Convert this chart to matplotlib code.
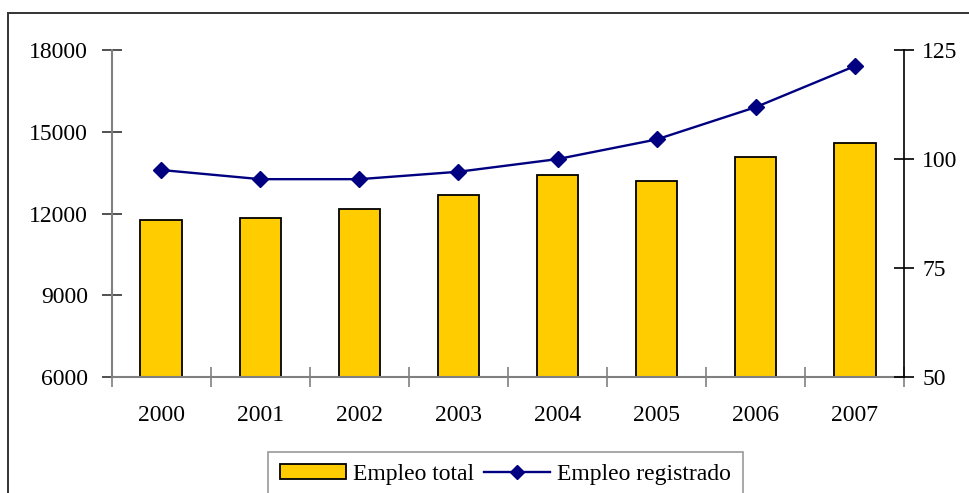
import matplotlib
matplotlib.use("Agg")
import matplotlib.pyplot as plt
from matplotlib.patches import Rectangle, Patch
from matplotlib.lines import Line2D

plt.rcParams['font.family'] = ['Liberation Serif', 'DejaVu Serif']

years = ['2000', '2001', '2002', '2003', '2004', '2005', '2006', '2007']
empleo_total = [11770, 11830, 12160, 12690, 13410, 13210, 14060, 14580]
empleo_registrado = [97.5, 95.4, 95.4, 97.1, 100.0, 104.5, 111.9, 121.3]

fig = plt.figure(figsize=(9.69, 4.93), dpi=100)
ax1 = fig.add_axes([0.1153, 0.2347, 0.8179, 0.6639])

x = list(range(len(years)))

# barras empleo total
ax1.bar(x, empleo_total, width=0.42, color='#FFCC00', edgecolor='black', linewidth=1.3, zorder=2)
ax1.set_xlim(-0.5, len(years) - 0.5)
ax1.set_ylim(6000, 18000)
ax1.set_yticks([6000, 9000, 12000, 15000, 18000])
ax1.set_xticks(x)
ax1.set_xticklabels(years)
ax1.set_xticks([i - 0.5 for i in range(len(years) + 1)], minor=True)
ax1.tick_params(axis='x', which='major', length=0, pad=20, labelsize=17)
ax1.tick_params(axis='x', which='minor', direction='inout', length=14, color='#808080', width=1.2)
ax1.tick_params(axis='y', direction='inout', length=14, width=1.2, color='#333333', labelsize=17, pad=10)

for s in ['top', 'right']:
    ax1.spines[s].set_visible(False)
ax1.spines['left'].set_color('#808080')
ax1.spines['bottom'].set_color('#808080')
ax1.spines['left'].set_linewidth(1.5)
ax1.spines['bottom'].set_linewidth(1.5)

# linea empleo registrado
ax2 = ax1.twinx()
ax2.plot(x, empleo_registrado, color='#000080', linewidth=1.7, marker='D', markersize=8, zorder=3)
ax2.set_ylim(50, 125)
ax2.set_yticks([50, 75, 100, 125])
ax2.tick_params(axis='y', direction='inout', length=14, width=1.2, color='black', labelsize=17, pad=6)
for s in ['top', 'left', 'bottom']:
    ax2.spines[s].set_visible(False)
ax2.spines['right'].set_color('black')
ax2.spines['right'].set_linewidth(1.2)

# marco exterior
fig.patches.append(Rectangle((8 / 969, -0.2), 1.2, 1.2 - 12.7 / 493, transform=fig.transFigure,
                             fill=False, edgecolor='#333333', linewidth=1.4, clip_on=False))

handles = [Patch(facecolor='#FFCC00', edgecolor='black', linewidth=1.3),
           Line2D([0], [0], color='#000080', linewidth=1.7, marker='D', markersize=7)]
leg = fig.legend(handles, ['Empleo total', 'Empleo registrado'], loc='upper left',
                 bbox_to_anchor=(268.3 / 969, 1 - 452.3 / 493), ncol=2, frameon=True,
                 fancybox=False, edgecolor='#808080', fontsize=17, handlelength=2.8,
                 handleheight=0.6, handletextpad=0.3, columnspacing=0.4, borderpad=0.5,
                 borderaxespad=0)
leg.get_frame().set_linewidth(1.2)

fig.savefig('out.png', dpi=100)
